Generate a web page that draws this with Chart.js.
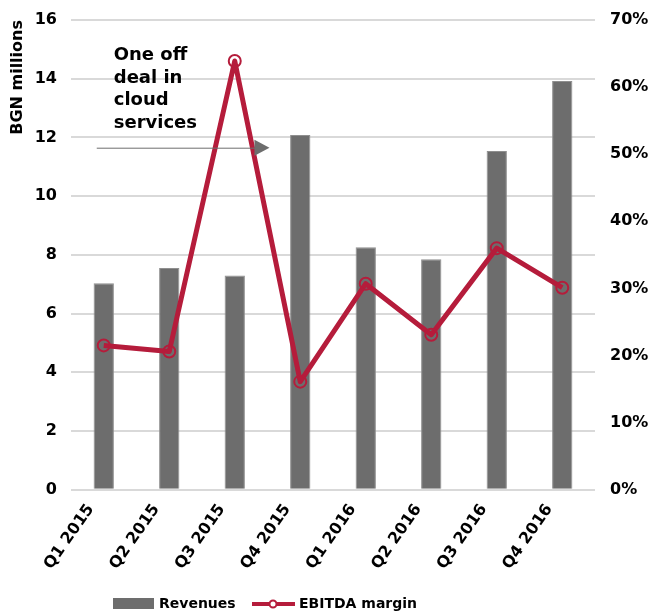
<!DOCTYPE html>
<html>
<head>
<meta charset="utf-8">
<script src="https://cdn.jsdelivr.net/npm/chart.js@4/dist/chart.umd.min.js"></script>
<style>
  body { margin: 0; background: #fff; }
  #wrap { width: 653px; height: 613px; }
</style>
</head>
<body>
<div id="wrap"><canvas id="chart"></canvas></div>
<script>
// Data
const quarters = ["Q1 2015", "Q2 2015", "Q3 2015", "Q4 2015", "Q1 2016", "Q2 2016", "Q3 2016", "Q4 2016"];
const revenues = [7.03, 7.55, 7.3, 12.08, 8.26, 7.85, 11.54, 13.92];
const ebitdaMargin = [21.5, 20.6, 63.9, 16.1, 30.7, 23.1, 36.0, 30.1];
const noteLines = ["One off", "deal in", "cloud", "services"];

const barGrey = "#6d6d6d";
const lineRed = "#b51c3b";
const font = "'DejaVu Sans', Verdana, sans-serif";

// annotation with arrow + custom legend
const extras = {
    id: "extras",
    afterDraw(chart) {
        const ctx = chart.ctx;
        const y = chart.scales.y;
        const x = chart.scales.x;
        ctx.save();

        // note text
        ctx.fillStyle = "#000";
        ctx.font = "bold 18px " + font;
        ctx.textAlign = "left";
        ctx.textBaseline = "alphabetic";
        const tx = x.getPixelForValue(0) + 10;
        noteLines.forEach(function (t, i) {
            ctx.fillText(t, tx, y.getPixelForValue(14.63) + i * 22.5);
        });

        // arrow
        const ay = y.getPixelForValue(11.65);
        const ax0 = x.getPixelForValue(0) - 7;
        const ax1 = x.getPixelForValue(2.53);
        ctx.strokeStyle = barGrey;
        ctx.lineWidth = 1;
        ctx.beginPath();
        ctx.moveTo(ax0, ay + 0.5);
        ctx.lineTo(ax1 - 14, ay + 0.5);
        ctx.stroke();
        ctx.fillStyle = barGrey;
        ctx.beginPath();
        ctx.moveTo(ax1 - 15, ay - 8);
        ctx.lineTo(ax1, ay);
        ctx.lineTo(ax1 - 15, ay + 8);
        ctx.closePath();
        ctx.fill();

        // legend
        const ly = 604;
        ctx.font = "bold 14px " + font;
        ctx.textBaseline = "middle";
        ctx.fillStyle = barGrey;
        ctx.fillRect(113, ly - 6, 41, 11);
        ctx.fillStyle = "#000";
        ctx.fillText(chart.data.datasets[1].label, 159, ly);

        ctx.strokeStyle = lineRed;
        ctx.lineWidth = 4;
        ctx.beginPath();
        ctx.moveTo(252, ly);
        ctx.lineTo(295, ly);
        ctx.stroke();
        ctx.lineWidth = 2;
        ctx.fillStyle = "#fff";
        ctx.beginPath();
        ctx.arc(273, ly, 3.5, 0, Math.PI * 2);
        ctx.fill();
        ctx.stroke();
        ctx.fillStyle = "#000";
        ctx.fillText(chart.data.datasets[0].label, 299, ly);
        ctx.restore();
    }
};

function noVPad(s) { s.paddingTop = 0; s.paddingBottom = 0; }

var ctx = document.getElementById("chart").getContext("2d");
var chart = new Chart(ctx, {
    type: "bar",
    data: {
        labels: quarters,
        datasets: [{
            type: "line",
            label: "EBITDA margin",
            data: ebitdaMargin,
            yAxisID: "y2",
            borderColor: lineRed,
            borderWidth: 5,
            borderJoinStyle: "round",
            pointRadius: 6,
            pointBorderWidth: 2,
            pointBackgroundColor: "rgba(255,255,255,0)",
            pointBorderColor: lineRed,
            tension: 0,
            order: 0
        }, {
            label: "Revenues",
            data: revenues,
            yAxisID: "y",
            backgroundColor: barGrey,
            borderColor: "#8f8f8f",
            borderWidth: 1,
            barPercentage: 0.62,
            categoryPercentage: 0.5,
            order: 1
        }]
    },
    options: {
        responsive: true,
        maintainAspectRatio: false,
        animation: false,
        layout: { padding: { top: 20, right: 0, bottom: 37, left: 0 } },
        plugins: {
            legend: { display: false },
            tooltip: { enabled: false }
        },
        scales: {
            x: {
                grid: { display: false },
                border: { display: false },
                ticks: {
                    color: "#000",
                    padding: 3,
                    labelOffset: -13,
                    font: { family: font, weight: "bold", size: 16 },
                    minRotation: 55,
                    maxRotation: 55
                },
                // don't let the rotated first label squeeze the plot
                afterFit: function (s) { s.paddingLeft = 0; s.paddingRight = 0; }
            },
            y: {
                position: "left",
                min: 0,
                max: 16,
                ticks: {
                    stepSize: 2,
                    color: "#000",
                    padding: 14,
                    font: { family: font, weight: "bold", size: 16 }
                },
                grid: { color: "#d9d9d9", lineWidth: 2, drawTicks: false },
                border: { display: false },
                title: {
                    display: true,
                    text: "BGN millions",
                    align: "end",
                    color: "#000",
                    padding: { top: 8, bottom: 8 },
                    font: { family: font, weight: "bold", size: 16 }
                },
                afterFit: function (s) { s.width = 71; noVPad(s); }
            },
            y2: {
                position: "right",
                min: 0,
                max: 70,
                ticks: {
                    stepSize: 10,
                    color: "#000",
                    padding: 15,
                    font: { family: font, weight: "bold", size: 16 },
                    callback: function (v) { return v + "%"; }
                },
                grid: { display: false, drawTicks: false },
                border: { display: false },
                afterFit: function (s) { s.width = 58; noVPad(s); }
            }
        }
    },
    plugins: [extras]
});
</script>
</body>
</html>
